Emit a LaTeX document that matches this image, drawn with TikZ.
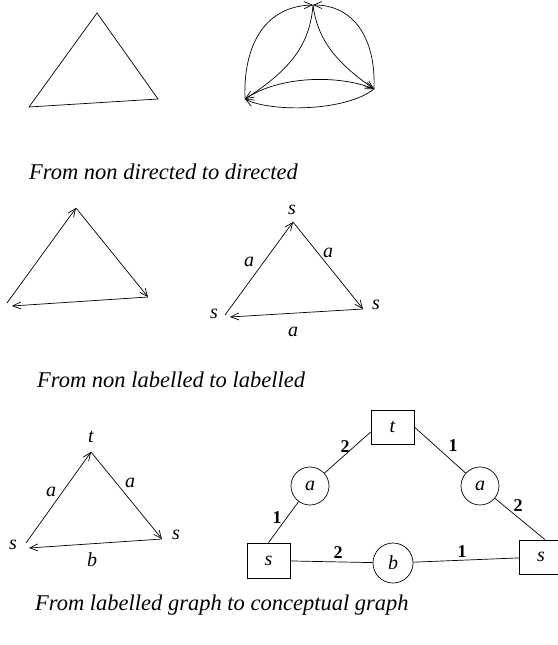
\documentclass[tikz,border=0pt]{standalone}
\usepackage{fontspec}
\setmainfont{Liberation Serif}
\usetikzlibrary{arrows.meta}
\begin{document}
\begin{tikzpicture}[x=1pt,y=-1pt,
  edge/.style={line width=0.7pt},
  arr/.style={edge,-{Straight Barb[length=8pt,width=7pt]}},
  lbl/.style={font=\fontsize{20}{24}\selectfont\itshape, inner sep=0pt},
  num/.style={font=\fontsize{18}{21}\selectfont\bfseries, inner sep=0pt},
  captxt/.style={font=\fontsize{22.5}{26}\selectfont\itshape, anchor=base west, inner sep=0pt},
  cbox/.style={draw, line width=0.7pt, minimum width=43pt, minimum height=34pt, inner sep=0pt, font=\fontsize{20}{24}\selectfont\itshape},
  ccirc/.style={draw, circle, line width=0.7pt, minimum size=38pt, inner sep=0pt, font=\fontsize{20}{24}\selectfont\itshape}]
\useasboundingbox (0,0) rectangle (557,645);

% top-left: undirected triangle
\coordinate (a1) at (97,13);
\coordinate (a2) at (29,107);
\coordinate (a3) at (158,99);
\draw[edge] (a1) -- (a2) -- (a3) -- cycle;

% top-right: directed (both ways)
\coordinate (bT) at (313,5);
\coordinate (bL) at (245,99);
\coordinate (bR) at (374,89);
\draw[arr] (bL) .. controls (243,45) and (265,6) .. (bT);
\draw[arr] (bR) .. controls (376,40) and (355,5) .. (bT);
\draw[arr] (bR) .. controls (345,112) and (270,112) .. (bL);
\draw[arr] (bL) .. controls (280,75) and (340,75) .. (bR);
\draw[arr] (bT) .. controls (310,45) and (290,70) .. (bL);
\draw[arr] (bT) .. controls (318,45) and (343,67) .. (bR);

\node[captxt] (c1) at (29,179) {From non directed to directed};

% middle-left
\coordinate (m1) at (76,208);
\coordinate (m2) at (7,303);
\coordinate (m2t) at (12,306);
\coordinate (m3) at (148,297);
\draw[arr] (m2) -- (m1);
\draw[arr] (m1) -- (m3);
\draw[arr] (m3) -- (m2t);

% middle-right
\coordinate (n1) at (293,222);
\coordinate (n2) at (225,315);
\coordinate (n2t) at (230,317);
\coordinate (n3) at (363,309);
\draw[arr] (n2) -- (n1);
\draw[arr] (n1) -- (n3);
\draw[arr] (n3) -- (n2t);
\node[lbl] (ns1) at (292,210) {s};
\node[lbl] (ns2) at (214,314) {s};
\node[lbl] (ns3) at (376,305) {s};
\node[lbl] (na1) at (249,262) {a};
\node[lbl] (na2) at (328,253) {a};
\node[lbl] (na3) at (293,332) {a};

\node[captxt] (c2) at (37,387) {From non labelled to labelled};

% bottom-left
\coordinate (p1) at (91,452);
\coordinate (p2) at (26,543);
\coordinate (p2t) at (29,548);
\coordinate (p3) at (162,539);
\draw[arr] (p2) -- (p1);
\draw[arr] (p1) -- (p3);
\draw[arr] (p3) -- (p2t);
\node[lbl] (pt) at (91,437) {t};
\node[lbl] (ps1) at (13,545) {s};
\node[lbl] (ps2) at (176,535) {s};
\node[lbl] (pa1) at (51,492) {a};
\node[lbl] (pa2) at (130,483) {a};
\node[lbl] (pb) at (92,560) {b};

% conceptual graph
\node[cbox] (ct) at (392.5,427) {t};
\node[ccirc] (ca1) at (310,486) {a};
\node[ccirc] (ca2) at (480,486) {a};
\node[cbox, minimum height=35pt] (cs1) at (268.5,560.5) {s};
\node[ccirc, minimum size=40pt] (cb) at (393,563) {b};
\node[cbox] (cs2) at (541,557) {s};

\draw[edge] ([yshift=-5pt]ct.west) -- (ca1);
\draw[edge] (ca1) -- (cs1.north);
\draw[edge] (cs1) -- (cb);
\draw[edge] (cb) -- (cs2);
\draw[edge] (ct.east) -- (ca2);
\draw[edge] (ca2) -- ([xshift=4pt]cs2.north);

\node[num] (l1) at (345,447) {2};
\node[num] (l2) at (453,446) {1};
\node[num] (l3) at (277,518) {1};
\node[num] (l4) at (518,506) {2};
\node[num] (l5) at (338,553) {2};
\node[num] (l6) at (462,552) {1};

\node[captxt] (c3) at (35,610) {From labelled graph to conceptual graph};
\end{tikzpicture}
\end{document}
